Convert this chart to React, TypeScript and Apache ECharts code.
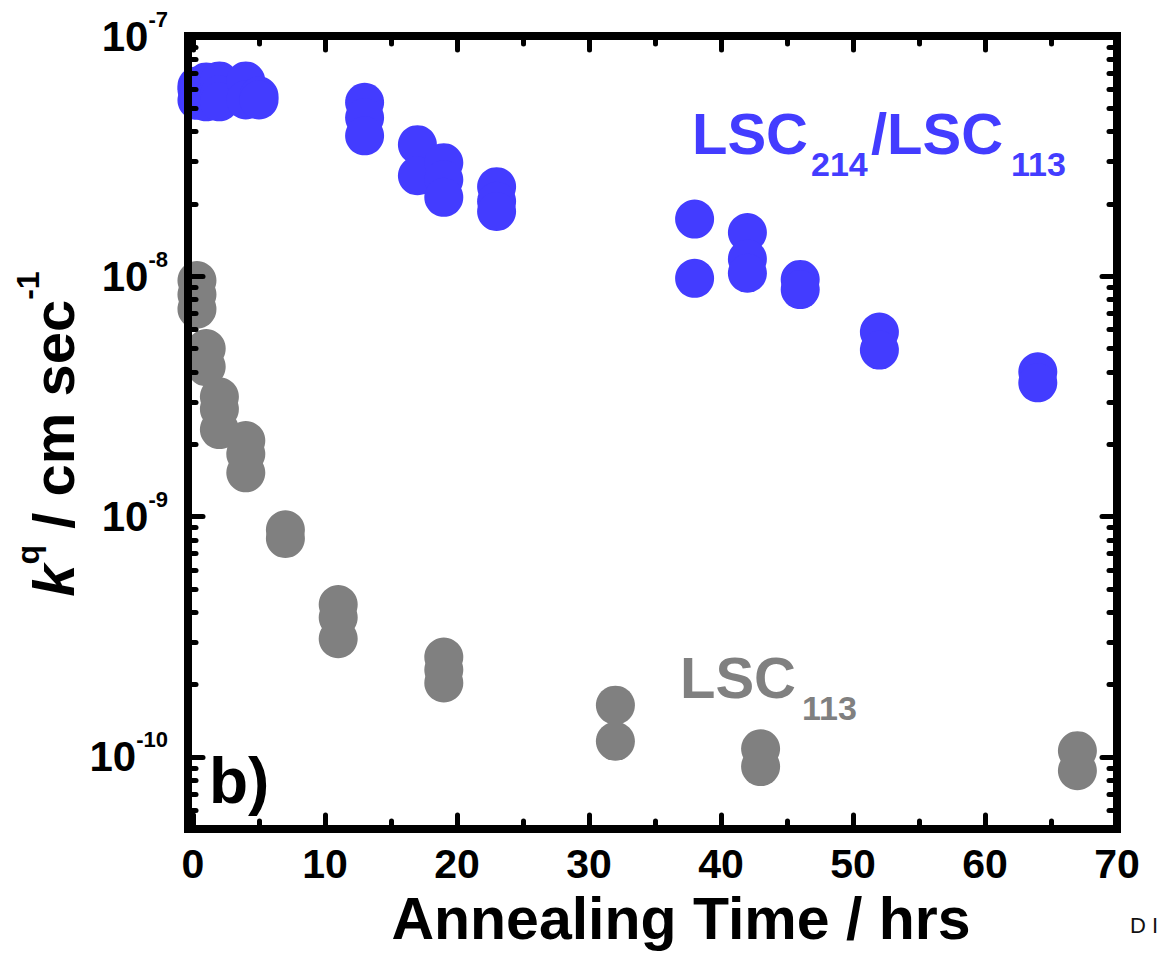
import React, { useEffect, useRef } from "react";
import * as echarts from "echarts";

// ---- data ----
const lsc214Times = [0.3, 0.3, 0.3, 1, 1, 2, 2, 2, 4, 4, 5, 5, 13, 13, 13, 17, 17, 19, 19, 19, 23, 23, 23, 38, 38, 42, 42, 42, 46, 46, 52, 52, 64, 64];
const lsc214K = [6.2e-8, 5.97e-8, 5.4e-8, 6.44e-8, 5.32e-8, 6.5e-8, 5.69e-8, 5.32e-8, 6.5e-8, 5.42e-8, 5.63e-8, 5.42e-8, 5.3e-8, 4.57e-8, 3.84e-8, 3.53e-8, 2.62e-8, 2.97e-8, 2.52e-8, 2.13e-8, 2.36e-8, 2.05e-8, 1.86e-8, 1.73e-8, 9.8e-9, 1.52e-8, 1.18e-8, 1.03e-8, 9.7e-9, 8.8e-9, 5.86e-9, 4.93e-9, 4.0e-9, 3.6e-9];

const lsc113Times = [0.3, 0.3, 0.3, 1, 1, 2, 2, 2, 4, 4, 4, 7, 7, 11, 11, 11, 19, 19, 19, 32, 32, 43, 43, 67, 67];
const lsc113K = [9.6e-9, 8.4e-9, 7.3e-9, 5.0e-9, 4.2e-9, 3.15e-9, 2.8e-9, 2.3e-9, 2.07e-9, 1.82e-9, 1.52e-9, 8.8e-10, 8.1e-10, 4.3e-10, 3.8e-10, 3.1e-10, 2.6e-10, 2.3e-10, 2.03e-10, 1.64e-10, 1.16e-10, 1.08e-10, 9.1e-11, 1.06e-10, 8.75e-11];

const yMajorTicks = [1e-10, 1e-9, 1e-8, 1e-7];
const yMinorTicks = [
  6e-11, 7e-11, 8e-11, 9e-11,
  2e-10, 3e-10, 4e-10, 5e-10, 6e-10, 7e-10, 8e-10, 9e-10,
  2e-9, 3e-9, 4e-9, 5e-9, 6e-9, 7e-9, 8e-9, 9e-9,
  2e-8, 3e-8, 4e-8, 5e-8, 6e-8, 7e-8, 8e-8, 9e-8,
];

const BLUE = "#433cff";
const GRAY = "#808080";
const FONT = "'Liberation Sans', Arial, Helvetica, sans-serif";

export default function App() {
  const ref = useRef<HTMLDivElement>(null);

  useEffect(() => {
    if (!ref.current) return;
    const chart = echarts.init(ref.current, null, { renderer: "svg" });

    const axisLine = { show: true, onZero: false, lineStyle: { color: "#000", width: 8, cap: "square" } };
    const noLine = { show: false, onZero: false };
    const majorTick = { show: true, inside: true, length: 14, lineStyle: { color: "#000", width: 5, cap: "round" } };
    const minorTickStyle = { show: true, inside: true, length: 8, lineStyle: { color: "#000", width: 5, cap: "round" } };
    const yBase = { type: "log", logBase: 10, min: 5e-11, max: 1e-7, gridIndex: 0, z: 10, splitLine: { show: false } };

    const option: any = {
      animation: false,
      backgroundColor: "#fff",
      grid: { left: 193, top: 36, width: 924, height: 797, containLabel: false },
      xAxis: [
        {
          type: "value", position: "bottom", min: 0, max: 70, interval: 10, z: 10,
          axisLine, axisTick: majorTick,
          minorTick: { show: true, splitNumber: 2, length: 8, lineStyle: { color: "#000", width: 5, cap: "round" } },
          splitLine: { show: false }, minorSplitLine: { show: false },
          axisLabel: { margin: 14, fontSize: 41, fontWeight: "bold", color: "#000", fontFamily: FONT },
          name: "Annealing Time / hrs", nameLocation: "middle", nameGap: 58,
          nameTextStyle: { fontSize: 59, fontWeight: "bold", color: "#000", fontFamily: FONT, padding: [0, 0, 0, 52] },
        },
        {
          type: "value", position: "top", min: 0, max: 70, interval: 10, z: 10,
          axisLine, axisTick: majorTick,
          minorTick: { show: true, splitNumber: 2, length: 8, lineStyle: { color: "#000", width: 5, cap: "round" } },
          splitLine: { show: false }, minorSplitLine: { show: false },
          axisLabel: { show: false },
        },
      ],
      yAxis: [
        {
          ...yBase, position: "left", offset: 5, axisLine,
          axisTick: { ...majorTick, length: 15, customValues: yMajorTicks },
          axisLabel: {
            customValues: yMajorTicks, margin: 20,
            formatter: (v: number) => `{b|10}{s|${Math.round(Math.log10(v))}}`,
            rich: {
              b: { fontSize: 42, fontWeight: "bold", color: "#000", fontFamily: FONT, lineHeight: 56 },
              s: { fontSize: 22, fontWeight: "bold", color: "#000", fontFamily: FONT, lineHeight: 22, verticalAlign: "top" },
            },
          },
        },
        {
          ...yBase, position: "left", offset: 5, axisLine: noLine,
          axisTick: { ...minorTickStyle, customValues: yMinorTicks },
          axisLabel: { show: false },
        },
        {
          ...yBase, position: "right", axisLine,
          axisTick: { ...majorTick, length: 15, customValues: yMajorTicks },
          axisLabel: { show: false },
        },
        {
          ...yBase, position: "right", axisLine: noLine,
          axisTick: { ...minorTickStyle, customValues: yMinorTicks },
          axisLabel: { show: false },
        },
      ],
      series: [
        {
          name: "LSC113", type: "scatter", xAxisIndex: 0, yAxisIndex: 0,
          symbol: "circle", symbolSize: 39, itemStyle: { color: GRAY, opacity: 1 },
          data: lsc113Times.map((t, i) => [t, lsc113K[i]]), clip: true, z: 2,
        },
        {
          name: "LSC214/LSC113", type: "scatter", xAxisIndex: 0, yAxisIndex: 0,
          symbol: "circle", symbolSize: 39, itemStyle: { color: BLUE, opacity: 1 },
          data: lsc214Times.map((t, i) => [t, lsc214K[i]]), clip: true, z: 3,
        },
      ],
      graphic: [
        {
          type: "text", x: 53, y: 434, rotation: Math.PI / 2, z: 20,
          style: {
            text: "{k|k}{q|q}{m| / cm sec}{q|-1}",
            align: "center", verticalAlign: "middle",
            rich: {
              k: { fontSize: 58, fontWeight: "bold", fontStyle: "italic", fill: "#000", fontFamily: FONT, lineHeight: 83 },
              m: { fontSize: 58, fontWeight: "bold", fill: "#000", fontFamily: FONT, lineHeight: 83 },
              q: { fontSize: 32, fontWeight: "bold", fill: "#000", fontFamily: FONT, lineHeight: 32, verticalAlign: "top" },
            },
          },
        },
        { type: "text", x: 692, y: 133, z: 20, style: { text: "LSC", fontSize: 58, fontWeight: "bold", fill: BLUE, fontFamily: FONT, align: "left", verticalAlign: "middle" } },
        { type: "text", x: 811, y: 164, z: 20, style: { text: "214", fontSize: 34, fontWeight: "bold", fill: BLUE, fontFamily: FONT, align: "left", verticalAlign: "middle" } },
        { type: "text", x: 871, y: 133, z: 20, style: { text: "/LSC", fontSize: 58, fontWeight: "bold", fill: BLUE, fontFamily: FONT, align: "left", verticalAlign: "middle" } },
        { type: "text", x: 1011, y: 164, z: 20, style: { text: "113", fontSize: 34, fontWeight: "bold", fill: BLUE, fontFamily: FONT, align: "left", verticalAlign: "middle" } },
        { type: "text", x: 680, y: 677, z: 20, style: { text: "LSC", fontSize: 58, fontWeight: "bold", fill: GRAY, fontFamily: FONT, align: "left", verticalAlign: "middle" } },
        { type: "text", x: 802, y: 708, z: 20, style: { text: "113", fontSize: 34, fontWeight: "bold", fill: GRAY, fontFamily: FONT, align: "left", verticalAlign: "middle" } },
        { type: "text", x: 209, y: 781, z: 20, style: { text: "b)", fontSize: 64, fontWeight: "bold", fill: "#000", fontFamily: FONT, align: "left", verticalAlign: "middle" } },
        { type: "text", x: 1130, y: 925, z: 20, style: { text: "D I", fontSize: 22, fill: "#111", fontFamily: FONT, align: "left", verticalAlign: "middle" } },
      ],
    };

    chart.setOption(option);
    return () => chart.dispose();
  }, []);

  return <div ref={ref} style={{ position: "fixed", left: 0, top: 0, width: 1165, height: 953, background: "#fff" }} />;
}
